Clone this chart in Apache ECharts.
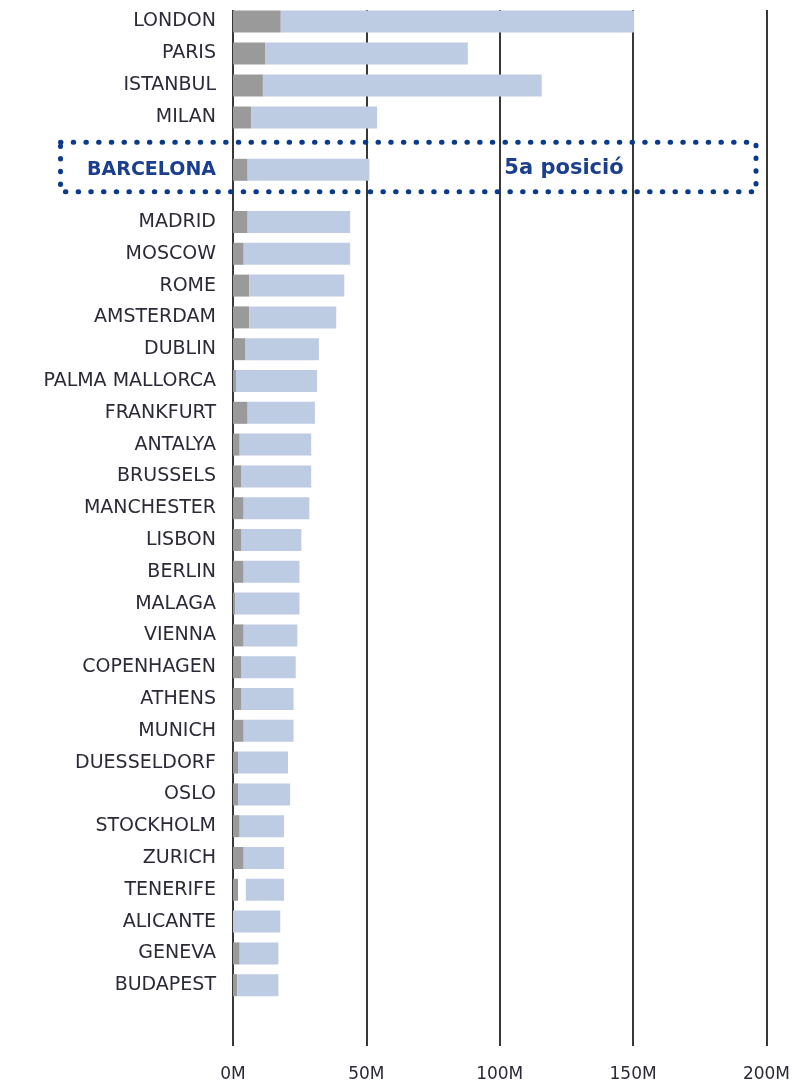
<!DOCTYPE html>
<html>
<head>
<meta charset="utf-8">
<script src="https://cdn.jsdelivr.net/npm/echarts@6/dist/echarts.min.js"></script>
<style>
  html, body { margin: 0; padding: 0; background: #fff; }
  #chart { width: 793px; height: 1085px; }
</style>
</head>
<body>
<div id="chart"></div>
<script>
// cities, top to bottom
const cities = ['LONDON', 'PARIS', 'ISTANBUL', 'MILAN', 'BARCELONA',
  'MADRID', 'MOSCOW', 'ROME', 'AMSTERDAM', 'DUBLIN', 'PALMA MALLORCA', 'FRANKFURT',
  'ANTALYA', 'BRUSSELS', 'MANCHESTER', 'LISBON', 'BERLIN', 'MALAGA', 'VIENNA',
  'COPENHAGEN', 'ATHENS', 'MUNICH', 'DUESSELDORF', 'OSLO', 'STOCKHOLM', 'ZURICH',
  'TENERIFE', 'ALICANTE', 'GENEVA', 'BUDAPEST']
// dark grey part (M)
const greyValues = [17.9, 12.0, 11.2, 6.9, 5.5,
  5.5, 4.0, 6.1, 6.1, 4.7, 1.1, 5.5,
  2.5, 3.2, 4.0, 3.2, 4.0, 0.9, 4.0,
  3.2, 3.2, 4.0, 1.9, 1.9, 2.5, 4.0,
  1.9, 0, 2.5, 1.6]
// empty gap between the two parts (only tenerife has one)
const gapValues = [0, 0, 0, 0, 0,
  0, 0, 0, 0, 0, 0, 0,
  0, 0, 0, 0, 0, 0, 0,
  0, 0, 0, 0, 0, 0, 0,
  2.9, 0, 0, 0]
// light blue part (M)
const blueValues = [132.4, 76.0, 104.5, 47.1, 45.6,
  38.4, 39.9, 35.6, 32.6, 27.5, 30.4, 25.2,
  26.8, 26.1, 24.6, 22.4, 20.9, 24.0, 20.1,
  20.3, 19.5, 18.7, 18.7, 19.5, 16.6, 15.1,
  14.3, 17.7, 14.5, 15.4]
const xMin = 0, xMax = 200, xStep = 50
const highlightText = '5a posició'

const chart = echarts.init(document.getElementById('chart'))

const FONT = 'DejaVu Sans'
const NAVY = '#1b3f8f'
const TEXT = '#2b2b38'
const LEFT = 233, WIDTH = 533.7

// groups: [first index, last index + 1, top, height]
const groups = [
  [0, 4, 5.5, 128],
  [4, 5, 133.5, 72.6],
  [5, 30, 206.1, 795],
]

// grid 0 only draws the vertical lines and the bottom labels
const grids = [{left: LEFT, width: WIDTH, top: 10, height: 1036}]
const xAxes = [{
  gridIndex: 0, type: 'value', min: xMin, max: xMax, interval: xStep,
  axisLine: {show: false}, axisTick: {show: false},
  splitLine: {show: true, lineStyle: {color: '#222', width: 1.8}},
  axisLabel: {formatter: '{value}M', fontFamily: FONT, fontSize: 17, color: TEXT, margin: 20},
}]
const yAxes = [{gridIndex: 0, type: 'value', min: 0, max: 1, show: false}]
const series = []

groups.forEach((g, i) => {
  const gi = i + 1
  const isHl = i === 1
  grids.push({left: LEFT, width: WIDTH, top: g[2], height: g[3]})
  xAxes.push({gridIndex: gi, type: 'value', min: xMin, max: xMax, show: false, splitLine: {show: false}})
  yAxes.push({
    gridIndex: gi, type: 'category', inverse: true,
    data: cities.slice(g[0], g[1]),
    axisLine: {show: false}, axisTick: {show: false}, splitLine: {show: false},
    axisLabel: {
      fontFamily: FONT, fontSize: isHl ? 19 : 19, margin: 17,
      color: isHl ? NAVY : TEXT,
      fontWeight: isHl ? 'bold' : 'normal',
    },
  })
  const common = {type: 'bar', stack: 's' + gi, xAxisIndex: gi, yAxisIndex: gi, barWidth: 22, silent: true}
  series.push({...common, data: greyValues.slice(g[0], g[1]), itemStyle: {color: '#9a9a9a'}})
  series.push({...common, data: gapValues.slice(g[0], g[1]), itemStyle: {color: 'rgba(0,0,0,0)'}})
  series.push({...common, data: blueValues.slice(g[0], g[1]), itemStyle: {color: '#bdcce2'}})
})

chart.setOption({
  animation: false,
  grid: grids,
  xAxis: xAxes,
  yAxis: yAxes,
  series: series,
  graphic: [
    {
      type: 'rect', z: 100,
      shape: {x: 60.5, y: 142.3, width: 695.5, height: 49.5},
      style: {fill: null, stroke: '#0a3a8a', lineWidth: 5, lineDash: [0.5, 12.2], lineCap: 'round'},
    },
    {
      type: 'text', z: 100, x: 564, y: 169,
      style: {
        text: highlightText, fill: NAVY, fontFamily: FONT, fontWeight: 'bold', fontSize: 21,
        align: 'center', verticalAlign: 'middle',
      },
    },
  ],
})
</script>
</body>
</html>
